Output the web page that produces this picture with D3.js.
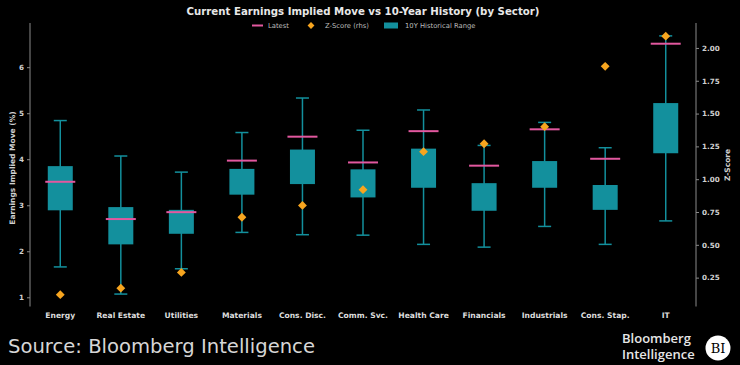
<!DOCTYPE html>
<html>
<head>
<meta charset="utf-8">
<script src="https://cdn.jsdelivr.net/npm/d3@7"></script>
<style>
	html, body { margin: 0; padding: 0; background: #000; }
	svg { display: block; }
	.axis text { fill: #d0d0d0; font-family: "DejaVu Sans", sans-serif; font-weight: bold; font-size: 7.2px; }
	.axis path, .axis line { stroke: #8a8a8a; }
	.xaxis text { font-size: 7.6px; fill: #dcdcdc; }
</style>
</head>
<body>
<div id="chart"></div>
<script>
// values
var sectors = ["Energy", "Real Estate", "Utilities", "Materials", "Cons. Disc.", "Comm. Svc.",
	"Health Care", "Financials", "Industrials", "Cons. Stap.", "IT"];
var histMin = [1.66, 1.07, 1.62, 2.41, 2.36, 2.35, 2.15, 2.09, 2.54, 2.15, 2.66];
var histLow = [2.89, 2.15, 2.38, 3.23, 3.46, 3.17, 3.38, 2.88, 3.38, 2.90, 4.13];
var histHigh = [3.85, 2.96, 2.90, 3.79, 4.21, 3.78, 4.23, 3.48, 3.96, 3.44, 5.22];
var histMax = [4.84, 4.07, 3.72, 4.58, 5.33, 4.63, 5.07, 4.30, 4.80, 4.25, 6.68];
var latest = [3.51, 2.70, 2.85, 3.97, 4.49, 3.93, 4.61, 3.86, 4.65, 4.01, 6.51];
var zScore = [0.12, 0.17, 0.29, 0.71, 0.80, 0.92, 1.21, 1.27, 1.40, 1.86, 2.09];
var leftTicks = [1, 2, 3, 4, 5, 6];
var rightTicks = [0.25, 0.50, 0.75, 1.00, 1.25, 1.50, 1.75, 2.00];

var W = 740, H = 365;
var teal = "#13909d", pink = "#e2589f", orange = "#f7a51f";

var svg = d3.select("#chart").append("svg")
	.attr("width", W)
	.attr("height", H);

svg.append("rect").attr("width", W).attr("height", H).attr("fill", "#000");

var x = d3.scaleBand()
	.domain(sectors)
	.range([30, 696]);

var y = d3.scaleLinear()
	.domain([0.8, 6.96])
	.range([306.5, 23]);

var yz = d3.scaleLinear()
	.domain([0.03, 2.19])
	.range([306.5, 23]);

var data = sectors.map(function(s, i) {
	return {name: s, min: histMin[i], lo: histLow[i], hi: histHigh[i], max: histMax[i],
		latest: latest[i], z: zScore[i]};
});

// axes
var gl = svg.append("g")
	.attr("class", "axis")
	.attr("transform", "translate(30,0)")
	.call(d3.axisLeft(y).tickValues(leftTicks).tickSize(3).tickPadding(3).tickFormat(d3.format("d")));
gl.select(".domain").attr("d", "M0,23V306.5");

var gr = svg.append("g")
	.attr("class", "axis")
	.attr("transform", "translate(696,0)")
	.call(d3.axisRight(yz).tickValues(rightTicks).tickSize(3).tickPadding(3).tickFormat(d3.format(".2f")));
gr.select(".domain").attr("d", "M0,23V306.5");

var gx = svg.append("g")
	.attr("class", "axis xaxis")
	.attr("transform", "translate(0,306.5)")
	.call(d3.axisBottom(x).tickSize(0).tickPadding(6));
gx.select(".domain").remove();

// boxes
var cx = function(d) { return x(d.name) + x.bandwidth() / 2; };
var box = svg.append("g").selectAll("g")
	.data(data)
	.enter().append("g");

box.append("line")
	.attr("x1", cx).attr("x2", cx)
	.attr("y1", function(d) { return y(d.min); })
	.attr("y2", function(d) { return y(d.max); })
	.attr("stroke", teal).attr("stroke-width", 1.5);

box.selectAll(".cap")
	.data(function(d) { return [d.min, d.max].map(function(v) { return {name: d.name, v: v}; }); })
	.enter().append("line")
	.attr("class", "cap")
	.attr("x1", function(d) { return cx(d) - 6.5; })
	.attr("x2", function(d) { return cx(d) + 6.5; })
	.attr("y1", function(d) { return y(d.v); })
	.attr("y2", function(d) { return y(d.v); })
	.attr("stroke", teal).attr("stroke-width", 1.5);

box.append("rect")
	.attr("x", function(d) { return cx(d) - 12.5; })
	.attr("width", 25)
	.attr("y", function(d) { return y(d.hi); })
	.attr("height", function(d) { return y(d.lo) - y(d.hi); })
	.attr("fill", teal);

box.append("line")
	.attr("x1", function(d) { return cx(d) - 15; })
	.attr("x2", function(d) { return cx(d) + 15; })
	.attr("y1", function(d) { return y(d.latest); })
	.attr("y2", function(d) { return y(d.latest); })
	.attr("stroke", pink).attr("stroke-width", 2);

var diamond = d3.symbol().type(d3.symbolDiamond2).size(50);
box.append("path")
	.attr("d", diamond)
	.attr("transform", function(d) { return "translate(" + cx(d) + "," + yz(d.z) + ")"; })
	.attr("fill", orange);

// labels
svg.append("text")
	.attr("x", 363).attr("y", 15)
	.attr("text-anchor", "middle")
	.attr("fill", "#e8e8e8")
	.style("font", "bold 10.2px 'DejaVu Sans', sans-serif")
	.text("Current Earnings Implied Move vs 10-Year History (by Sector)");

svg.append("text")
	.attr("transform", "translate(15,168) rotate(-90)")
	.attr("text-anchor", "middle")
	.attr("fill", "#d0d0d0")
	.style("font", "bold 7.5px 'DejaVu Sans', sans-serif")
	.text("Earnings Implied Move (%)");

svg.append("text")
	.attr("transform", "translate(730,165) rotate(-90)")
	.attr("text-anchor", "middle")
	.attr("fill", "#d0d0d0")
	.style("font", "bold 7.5px 'DejaVu Sans', sans-serif")
	.text("Z-Score");

// legend
var leg = svg.append("g").style("font", "6.8px 'DejaVu Sans', sans-serif");
leg.append("line").attr("x1", 252).attr("x2", 263).attr("y1", 25.5).attr("y2", 25.5)
	.attr("stroke", pink).attr("stroke-width", 2);
leg.append("text").attr("x", 268).attr("y", 28).attr("fill", "#bbb").text("Latest");
leg.append("path").attr("d", d3.symbol().type(d3.symbolDiamond2).size(30))
	.attr("transform", "translate(311,25.5)").attr("fill", orange);
leg.append("text").attr("x", 325).attr("y", 28).attr("fill", "#bbb").text("Z-Score (rhs)");
leg.append("rect").attr("x", 384).attr("y", 22.5).attr("width", 14).attr("height", 6).attr("fill", teal);
leg.append("text").attr("x", 405).attr("y", 28).attr("fill", "#bbb").text("10Y Historical Range");

// footer
svg.append("text")
	.attr("x", 8).attr("y", 353)
	.attr("fill", "#d6d6d6")
	.style("font", "19.6px 'DejaVu Sans', sans-serif")
	.text("Source: Bloomberg Intelligence");

svg.append("text").attr("x", 622).attr("y", 342.5)
	.attr("fill", "#e6e6e6")
	.style("font", "600 13px 'Open Sans', sans-serif")
	.text("Bloomberg");
svg.append("text").attr("x", 622).attr("y", 358.5)
	.attr("fill", "#e6e6e6")
	.style("font", "600 13px 'Open Sans', sans-serif")
	.text("Intelligence");
svg.append("circle").attr("cx", 718).attr("cy", 348).attr("r", 12.5).attr("fill", "#fff");
svg.append("text").attr("x", 718).attr("y", 352.5)
	.attr("text-anchor", "middle")
	.attr("fill", "#000")
	.style("font", "13px 'DejaVu Serif', serif")
	.text("BI");
</script>
</body>
</html>
